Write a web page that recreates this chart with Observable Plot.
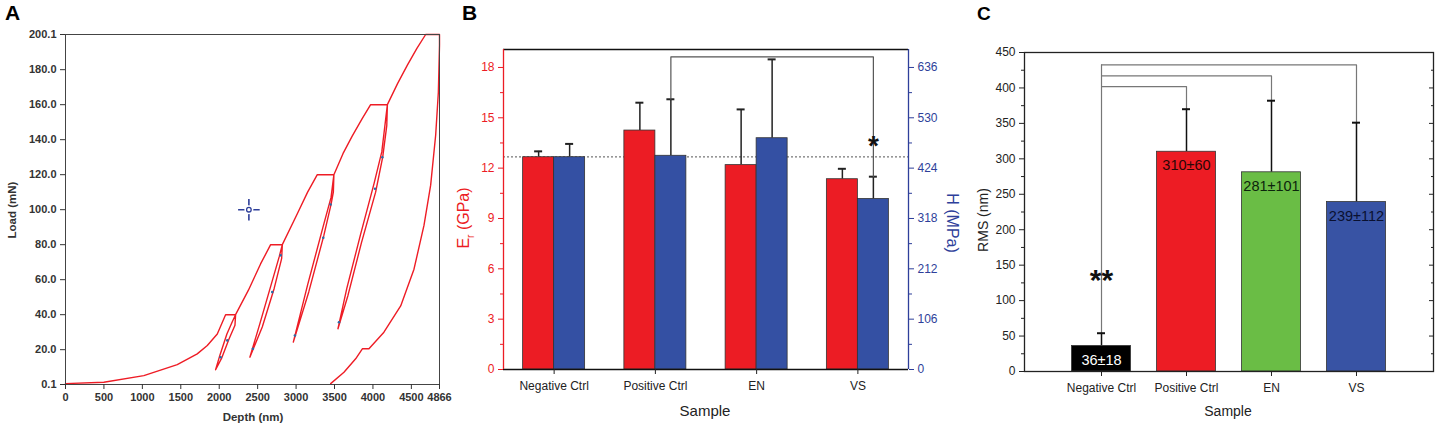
<!DOCTYPE html>
<html><head><meta charset="utf-8">
<script src="https://cdn.jsdelivr.net/npm/d3@7"></script>
<script src="https://cdn.jsdelivr.net/npm/@observablehq/plot@0.6"></script>
<style>
body{margin:0;background:#fff;}
#fig{position:relative;width:1439px;height:432px;font-family:"Liberation Sans",Arial,sans-serif;overflow:hidden;}
.panel{position:absolute;top:0;}
.lbl{position:absolute;white-space:nowrap;transform:translate(-50%,-50%);line-height:1;}
.rotL{transform:translate(-50%,-50%) rotate(-90deg);}
.rotR{transform:translate(-50%,-50%) rotate(90deg);}
.letter{position:absolute;font-weight:bold;line-height:1;}
</style></head><body><div id="fig"></div>
<script>
// ---------- shared ----------
const categories = ["Negative Ctrl", "Positive Ctrl", "EN", "VS"];

// ---------- Panel A: load–depth curve ----------
const curveDepth = [0,499,1019,1454,1714,1845,1975,2083,
  2213,2205,2126,2030,1953, 2010,2100,2170,2213,
  2380,2538,2669,2821, 2812,2715,2560,2399, 2530,2675,2780,2821,
  3016,3150,3276,3492, 3485,3455,3360,3165,2964, 3150,3350,3455,3492,
  3610,3730,3860,3970,4188, 4180,4127,4035,3850,3675,3545, 3660,3840,4015,4115,4188,
  4320,4448,4570,4686,4866,
  4866,4851,4816,4751,4664,4534,4361,4143,3948,3862,3775,3623,3450];
const curveLoad = [0.6,1.4,5.2,11.5,17.6,22.4,29,40,
  40,34,26,15,8.5, 17,29,36,40,
  54,69,80,80, 72,55,33,15.7, 35,57,73,80,
  97.7,110,120,120, 110,103,85,53,24.3, 57,90,107,120,
  132,142,152,160,160, 148,130,110,81,51,32, 55,86,115,133,160,
  172,182.6,192,200.1,200.1,
  194,167,142.5,114,91,66,45,30,20.5,20.5,14.8,7.1,0.6];
const markerDepth = [2018,2105,2438,2690,2799,2985,3354,3449,3558,4027,4122];
const markerLoad = [15.7,25.3,20.5,52.9,73.9,28.1,84,103,35.7,112,130];
const cursorPos = [{depth: 2386, load: 100}];
const depthTicks = [0,500,1000,1500,2000,2500,3000,3500,4000,4500,4866];
const loadTicks = [0.1,20,40,60,80,100,120,140,160,180,200.1];

// ---------- Panel B: modulus / hardness ----------
const modulus = [12.65, 14.24, 12.18, 11.34];
const modulusErr = [0.35, 1.66, 3.32, 0.62];
const hardness = [447, 450, 487, 359];
const hardnessErr = [28, 119, 166, 47];
const modulusTicks = [0,3,6,9,12,15,18];
const modulusMinor = [1.5,4.5,7.5,10.5,13.5,16.5];
const hardnessTicks = [0,106,212,318,424,530,636];
const hardnessMinor = [53,159,265,371,477,583];
const refLineB = [12.67];
const bracketB = [{from: "Positive Ctrl", to: "VS", level: 18.63}];
const starB = [{c: "VS", y: 13.3, label: "*"}];

// ---------- Panel C: RMS roughness ----------
const rms = [36, 310, 281, 239];
const rmsErr = [18, 60, 101, 112];
const rmsColors = ["#000000", "#ed1c24", "#6abd45", "#3853a4"];
const rmsLabelColors = ["#ffffff", "#2a0606", "#0c240c", "#0a1030"];
const bracketC = [{to: "Positive Ctrl", level: 402}, {to: "EN", level: 417}, {to: "VS", level: 432.6}];
const starC = [{c: "Negative Ctrl", y: 128, label: "**"}];
const rmsTicks = [0,50,100,150,200,250,300,350,400,450];
const rmsMinor = [25,75,125,175,225,275,325,375,425];

const FONT = '"Liberation Sans", Arial, sans-serif';
const fig = document.getElementById("fig");
function place(el, left){ const d=document.createElement("div"); d.className="panel"; d.style.left=left+"px"; d.appendChild(el); fig.appendChild(d); }
function label(text, x, y, cls, css){ const d=document.createElement("div"); d.className="lbl "+(cls||""); d.innerHTML=text; d.style.left=x+"px"; d.style.top=y+"px"; Object.assign(d.style, css||{}); fig.appendChild(d); }
function letter(t,x,y,size){ const d=document.createElement("div"); d.className="letter"; d.textContent=t; d.style.left=x+"px"; d.style.top=y+"px"; d.style.fontSize=size+"px"; fig.appendChild(d); }

// ===== Panel A =====
const curve = curveDepth.map((d,i)=>({depth:d, load:curveLoad[i]}));
const markers = markerDepth.map((d,i)=>({depth:d, load:markerLoad[i]}));
const plotA = Plot.plot({
  width: 460, height: 432, marginLeft: 65, marginRight: 21, marginTop: 34, marginBottom: 48,
  style: {fontFamily: FONT, fontSize: "11px", fontWeight: "bold", color: "#333", background: "transparent"},
  x: {domain: [0, 4866]},
  y: {domain: [0.1, 200.1]},
  marks: [
    Plot.line(curve, {x: "depth", y: "load", stroke: "#ee1c25", strokeWidth: 1.4}),
    Plot.dot(markers, {x: "depth", y: "load", r: 1.3, fill: "#2b6aa8"}),
    Plot.dot(cursorPos, {x: "depth", y: "load", symbol: "plus", r: 7, stroke: "#2e3f9a", strokeWidth: 1.6}),
    Plot.dot(cursorPos, {x: "depth", y: "load", r: 4.5, fill: "white"}),
    Plot.dot(cursorPos, {x: "depth", y: "load", r: 2.3, fill: "white", stroke: "#2e3f9a", strokeWidth: 1.3}),
    Plot.frame({stroke: "#444"}),
    Plot.axisX({ticks: depthTicks, tickFormat: d => String(d), tickSize: 5, label: null, color: "#333"}),
    Plot.axisY({ticks: loadTicks, tickFormat: d => d.toFixed(1), tickSize: 5, label: null, color: "#333"})
  ]
});
place(plotA, 0);
label("Load (mN)", 13, 210, "rotL", {fontSize: "11.5px", fontWeight: "bold", color: "#333"});
label("Depth (nm)", 253, 418, "", {fontSize: "11.5px", fontWeight: "bold", color: "#333"});
letter("A", 5, 2, 21);

// ===== Panel B =====
const kH = 636 / 18;
const yMaxB = 19.07;
const stepB = 405 / 4, halfB = stepB / 2, barWB = 31, offB = 15.5, capB = 4;
const bData = categories.map((c,i)=>({c, e: modulus[i], eTop: modulus[i]+modulusErr[i], h: hardness[i]/kH, hTop: (hardness[i]+hardnessErr[i])/kH}));
const bb = bracketB[0];
const bIdx = c => categories.indexOf(c);
const bracketBPts = [
  {c: bb.from, y: bData[bIdx(bb.from)].hTop}, {c: bb.from, y: bb.level},
  {c: bb.to, y: bb.level}, {c: bb.to, y: bData[bIdx(bb.to)].hTop}];
const RED = "#ec1c24", BLUE = "#2e3f9a";
const plotB = Plot.plot({
  width: 500, height: 432, marginLeft: 43, marginRight: 52, marginTop: 49, marginBottom: 63,
  style: {fontFamily: FONT, fontSize: "12px", color: "#222", background: "transparent"},
  x: {type: "band", domain: categories, padding: 0, round: false},
  y: {domain: [0, yMaxB]},
  marks: [
    Plot.ruleY(refLineB, {stroke: "#555", strokeDasharray: "2,2", strokeWidth: 1}),
    Plot.ruleX(bData, {x: "c", y1: "e", y2: "eTop", dx: -offB, stroke: "#222", strokeWidth: 1.5}),
    Plot.tickY(bData, {x: "c", y: "eTop", insetLeft: halfB-offB-capB, insetRight: halfB+offB-capB, stroke: "#222", strokeWidth: 2}),
    Plot.ruleX(bData, {x: "c", y1: "h", y2: "hTop", dx: offB, stroke: "#222", strokeWidth: 1.5}),
    Plot.tickY(bData, {x: "c", y: "hTop", insetLeft: halfB+offB-capB, insetRight: halfB-offB-capB, stroke: "#222", strokeWidth: 2}),
    Plot.line(bracketBPts, {x: "c", y: "y", dx: offB, stroke: "#555", strokeWidth: 1.2}),
    Plot.barY(bData, {x: "c", y: "e", fill: RED, stroke: "#333", strokeWidth: 0.8, insetLeft: halfB-barWB, insetRight: halfB}),
    Plot.barY(bData, {x: "c", y: "h", fill: "#3450a3", stroke: "#333", strokeWidth: 0.8, insetLeft: halfB, insetRight: halfB-barWB}),
    Plot.text(starB, {x: "c", y: "y", text: "label", dx: offB, fontSize: 28, fontWeight: "bold", fill: "#111"}),
    Plot.ruleY([0], {stroke: "#111", strokeWidth: 1.5}),
    Plot.ruleY([yMaxB], {stroke: "#111", strokeWidth: 1.5}),
    Plot.ruleX([categories[0]], {dx: -halfB, stroke: RED, strokeWidth: 1.3}),
    Plot.ruleX([categories[3]], {dx: halfB, stroke: BLUE, strokeWidth: 1.3}),
    Plot.axisX({tickSize: 5, label: null, color: "#222", tickPadding: 7}),
    Plot.axisY({anchor: "left", ticks: modulusTicks, tickSize: 5, label: null, color: RED}),
    Plot.axisY({anchor: "left", ticks: modulusMinor, tickSize: 3, tickFormat: () => "", label: null, color: RED}),
    Plot.axisY({anchor: "right", ticks: hardnessTicks.map(h => h/kH), tickFormat: d => String(Math.round(d*kH)), tickSize: 5, label: null, color: BLUE}),
    Plot.axisY({anchor: "right", ticks: hardnessMinor.map(h => h/kH), tickFormat: () => "", tickSize: 3, label: null, color: BLUE})
  ]
});
place(plotB, 460);
label("E<sub style='font-size:10px'>r</sub> (GPa)", 466, 218, "rotL", {fontSize: "16px", color: RED});
label("H (MPa)", 952, 223, "rotR", {fontSize: "16px", color: BLUE});
label("Sample", 705, 410, "", {fontSize: "15px", color: "#222"});
letter("B", 462, 2, 21);

// ===== Panel C =====
const cData = categories.map((c,i)=>({c, v: rms[i], top: rms[i]+rmsErr[i], err: rmsErr[i], fill: rmsColors[i], lc: rmsLabelColors[i]}));
const negTop = cData[0].top;
const bracketCLines = bracketC.map(b => [
  {c: categories[0], y: b.level}, {c: b.to, y: b.level}, {c: b.to, y: cData[bIdx(b.to)].top}]);
const negStem = [{c: categories[0], y: negTop}, {c: categories[0], y: d3.max(bracketC, b => b.level)}];
const stepC = 85, capC = 4, barInsetC = 13;
const plotC = Plot.plot({
  width: 479, height: 432, marginLeft: 64, marginRight: 6, marginTop: 52, marginBottom: 61,
  style: {fontFamily: FONT, fontSize: "12px", color: "#222", background: "transparent"},
  x: {type: "band", domain: categories, paddingInner: 0, paddingOuter: 0.406, round: false},
  y: {domain: [0, 450]},
  marks: [
    Plot.line(negStem, {x: "c", y: "y", stroke: "#777", strokeWidth: 1.2}),
    ...bracketCLines.map(pts => Plot.line(pts, {x: "c", y: "y", stroke: "#777", strokeWidth: 1.2})),
    Plot.ruleX(cData, {x: "c", y1: "v", y2: "top", stroke: "#111", strokeWidth: 1.5}),
    Plot.tickY(cData, {x: "c", y: "top", insetLeft: stepC/2-capC, insetRight: stepC/2-capC, stroke: "#111", strokeWidth: 2}),
    Plot.barY(cData, {x: "c", y: "v", fill: "fill", stroke: "#333", strokeWidth: 0.8, insetLeft: barInsetC, insetRight: barInsetC}),
    Plot.text(cData, {x: "c", y: "v", text: d => `${d.v}±${d.err}`, dy: 14, fill: "lc", fontSize: 14.5}),
    Plot.text(starC, {x: "c", y: "y", text: "label", fontSize: 30, fontWeight: "bold", fill: "#111"}),
    Plot.frame({stroke: "#222", strokeWidth: 1.3}),
    Plot.axisX({tickSize: 5, label: null, color: "#222", tickPadding: 7}),
    Plot.axisY({anchor: "left", ticks: rmsTicks, tickSize: 5, label: null, color: "#222"}),
    Plot.axisY({anchor: "left", ticks: rmsMinor, tickSize: 3, tickFormat: () => "", label: null, color: "#222"}),
    Plot.axisY({anchor: "right", ticks: rmsTicks, tickSize: -5, tickFormat: () => "", label: null, color: "#222"}),
    Plot.axisY({anchor: "right", ticks: rmsMinor, tickSize: -3, tickFormat: () => "", label: null, color: "#222"})
  ]
});
place(plotC, 960);
label("RMS (nm)", 983, 220, "rotL", {fontSize: "14px", color: "#222"});
label("Sample", 1228, 411, "", {fontSize: "14px", color: "#222"});
letter("C", 977, 4, 19);
</script></body></html>
